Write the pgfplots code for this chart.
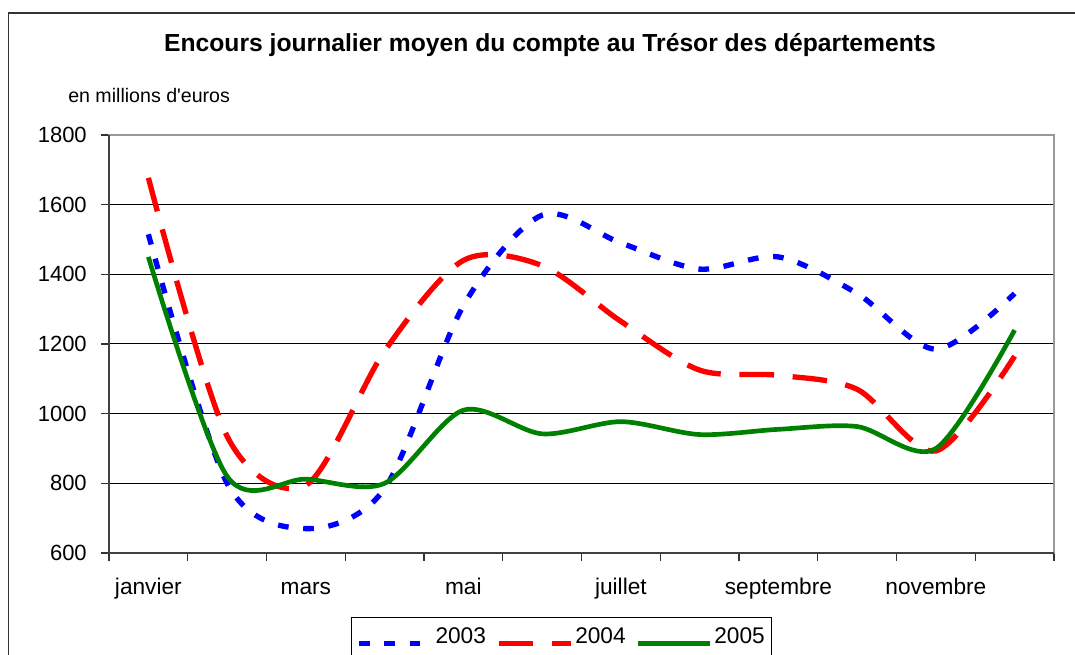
\documentclass[border=0pt]{standalone}
\usepackage{fontspec}
\setmainfont{Liberation Sans}
\newfontfamily\plainfont{Liberation Sans}[Ligatures=TeXOff]
\usepackage{pgfplots}
\pgfplotsset{compat=1.18}
\definecolor{xlblue}{RGB}{0,0,255}
\definecolor{xlred}{RGB}{255,0,0}
\definecolor{xlgreen}{RGB}{0,128,0}
\begin{document}
\begin{tikzpicture}
\useasboundingbox (0,0) rectangle (806.25pt,491.25pt);
\draw[black!80, line width=1.1pt] (6.5pt,-5pt) -- (6.5pt,481.5pt) -- (812pt,481.5pt);
\node[font=\bfseries\fontsize{18.5}{22}\selectfont] at (412.5pt,457.5pt) {Encours journalier moyen du compte au Trésor des départements};
\node[anchor=west, inner sep=0pt, font=\plainfont\fontsize{14.7}{17}\selectfont] at (51pt,419.25pt) {en millions d'euros};
\begin{axis}[
  at={(81.75pt,76.5pt)}, anchor=south west,
  width=708.75pt, height=313.5pt, scale only axis,
  xmin=0.5, xmax=12.5, ymin=600, ymax=1800,
  ytick={600,800,...,1800},
  xtick={0.5,1.5,...,12.5},
  xticklabels={},
  extra x ticks={1,3,5,7,9,11},
  extra x tick labels={janvier,mars,mai,juillet,septembre,novembre},
  extra x tick style={major tick length=0pt, grid=none},
  xtick pos=left, ytick pos=left,
  tick align=outside,
  major tick length=6pt,
  ymajorgrids,
  grid style={black, line width=0.75pt},
  axis line style={gray!80, line width=1pt},
  tick style={black!80, line width=0.9pt},
  /pgf/number format/assume math mode=true,
  /pgf/number format/1000 sep={},
  yticklabel style={font=\fontsize{16.5}{18}\selectfont, anchor=east, inner sep=0pt, xshift=-10.5pt},
  xticklabel style={font=\fontsize{17}{19}\selectfont, anchor=base, inner sep=0pt, yshift=-31.5pt},
  legend style={at={(0.2561,-0.1531)}, anchor=north west, legend columns=3,
    draw=black, line width=0.75pt, font=\fontsize{17}{19}\selectfont,
    inner xsep=3.5pt, inner ysep=5.5pt,
    nodes={inner xsep=1.5pt, inner ysep=2pt, text height=12.3pt, text depth=12pt},
    /tikz/every even column/.append style={column sep=6pt}},
  legend image code/.code={\draw[#1] (0pt,0pt) -- (54pt,0pt);},
  after end axis/.code={
    \draw[black!75, line width=1.2pt] (rel axis cs:0,1) -- (rel axis cs:0,0) -- (rel axis cs:1,0);
  },
]
\addplot[xlblue, line width=4pt, dash pattern=on 8pt off 11pt, smooth, tension=0.5] coordinates {
(1,1515) (2,800) (3,670) (4,785) (5,1310) (6,1570) (7,1490) (8,1415) (9,1450) (10,1345) (11,1185) (12,1345)};
\addlegendentry{2003}
\addplot[xlred, line width=4pt, dash pattern=on 26pt off 14pt, smooth, tension=0.5] coordinates {
(1,1677) (2,935) (3,795) (4,1180) (5,1440) (6,1425) (7,1265) (8,1125) (9,1110) (10,1070) (11,893) (12,1165)};
\addlegendentry{2004}
\addplot[xlgreen, line width=3.5pt, smooth, tension=0.5] coordinates {
(1,1450) (2,820) (3,812) (4,800) (5,1010) (6,942) (7,977) (8,940) (9,955) (10,963) (11,900) (12,1240)};
\addlegendentry{2005}
\end{axis}
\end{tikzpicture}
\end{document}
